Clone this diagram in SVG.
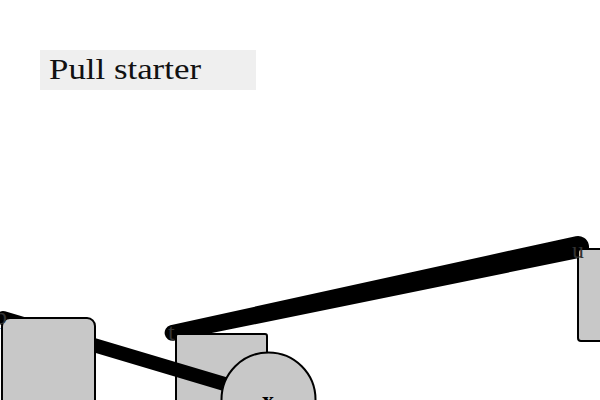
<svg xmlns="http://www.w3.org/2000/svg" width="600" height="400" viewBox="0 0 600 400">
<style>
.node{fill:#c8c8c8;stroke:#000;stroke-width:2}
.edge{stroke:#000;stroke-linecap:round;fill:none}
.edge-fill{fill:#000;stroke:none}
.lbl{font-family:"Liberation Serif",serif;font-size:24px;fill:#333}
.title{font-family:"Liberation Serif",serif;font-size:30px;fill:#111}
</style>
<rect width="600" height="400" fill="#fff"/>
<g id="title">
<rect x="40" y="50" width="216" height="40" fill="#efefef"/>
<text class="title" x="49" y="79" textLength="152" lengthAdjust="spacingAndGlyphs">Pull starter</text>
</g>
<g id="connectors">
<path id="edge-t-u" class="edge-fill" d="M170.34,325.2 L575.7,236.2 A11,11 0 0 1 580.3,257.8 L173.66,340.8 A8,8 0 0 1 170.34,325.2 Z"/>
</g>
<g id="node-t">
<rect class="node" x="176" y="334" width="91" height="100" rx="2"/>
</g>
<g id="connectors2">
<line id="edge-p-x" class="edge" x1="3" y1="318" x2="268" y2="397" stroke-width="14"/>
</g>
<g id="node-p">
<rect class="node" x="2" y="318" width="93" height="110" rx="8"/>
</g>
<g id="node-x">
<circle class="node" cx="268.5" cy="399.5" r="47"/>
<text x="268" y="408" text-anchor="middle" font-family="Liberation Serif, serif" font-size="24" font-weight="bold" fill="#000">x</text>
</g>
<g id="node-u">
<rect class="node" x="578" y="249" width="40" height="92" rx="3"/>
</g>
<g id="labels">
<text class="lbl" x="-5" y="324">p</text>
<text class="lbl" x="168" y="340">t</text>
<text class="lbl" x="572" y="258">u</text>
</g>
</svg>
